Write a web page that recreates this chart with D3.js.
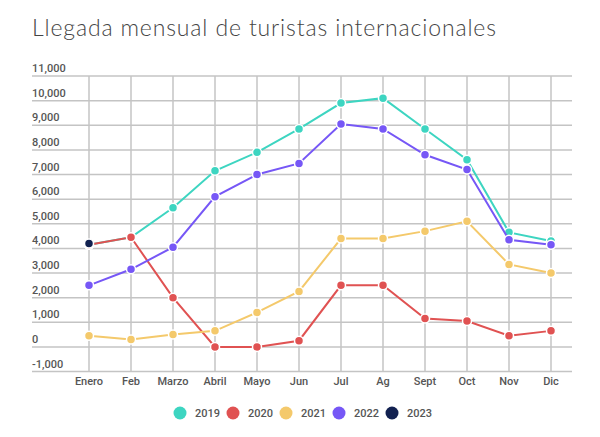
<!DOCTYPE html>
<html>
<head>
<meta charset="utf-8">
<script src="https://cdn.jsdelivr.net/npm/d3@7"></script>
<style>
  body { margin: 0; background: #fff; }
  svg { display: block; }
</style>
</head>
<body>
<div id="chart"></div>
<script>
var months = ["Enero", "Feb", "Marzo", "Abril", "Mayo", "Jun", "Jul", "Ag", "Sept", "Oct", "Nov", "Dic"];
var years = ["2019", "2020", "2021", "2022", "2023"];
var colors = ["#3dd5c1", "#e05252", "#f4c96b", "#7657f6", "#122150"];

var v2019 = [4150, 4450, 5650, 7150, 7900, 8850, 9900, 10100, 8850, 7600, 4650, 4300];
var v2020 = [4150, 4450, 2000, 0, 0, 250, 2500, 2500, 1150, 1050, 450, 650];
var v2021 = [450, 300, 500, 650, 1400, 2250, 4400, 4400, 4700, 5100, 3350, 3000];
var v2022 = [2500, 3150, 4050, 6100, 7000, 7450, 9050, 8850, 7800, 7200, 4350, 4150];
var v2023 = [4200, null, null, null, null, null, null, null, null, null, null, null];

var yTicks = [-1000, 0, 1000, 2000, 3000, 4000, 5000, 6000, 7000, 8000, 9000, 10000, 11000];

var series = [v2019, v2020, v2021, v2022, v2023];

var w = 600;
var h = 437;

var svg = d3.select("#chart")
  .append("svg")
  .attr("width", w)
  .attr("height", h);

var xScale = d3.scalePoint()
  .domain(months)
  .range([68, 572])
  .padding(0.5);

var yScale = d3.scaleLinear()
  .domain([-1000, 11000])
  .range([371.5, 76]);

// title
svg.append("text")
  .text("Llegada mensual de turistas internacionales")
  .attr("x", 32)
  .attr("y", 36)
  .attr("font-family", "Lato")
  .attr("font-weight", 300)
  .attr("font-size", "23px")
  .attr("textLength", 464)
  .attr("lengthAdjust", "spacing")
  .attr("fill", "#444");

// horizontal grid
svg.append("g")
  .selectAll("line")
  .data(yTicks)
  .enter()
  .append("line")
  .attr("x1", 32)
  .attr("x2", 572)
  .attr("y1", function(d) { return yScale(d); })
  .attr("y2", function(d) { return yScale(d); })
  .attr("stroke", "#c4c4c4")
  .attr("stroke-width", 1.5);

// vertical grid
svg.append("g")
  .selectAll("line")
  .data(months)
  .enter()
  .append("line")
  .attr("x1", function(d) { return xScale(d); })
  .attr("x2", function(d) { return xScale(d); })
  .attr("y1", yScale(11000))
  .attr("y2", yScale(-1000))
  .attr("stroke", "#c4c4c4")
  .attr("stroke-width", 1.5);

// y labels
svg.append("g")
  .selectAll("text")
  .data(yTicks)
  .enter()
  .append("text")
  .text(function(d) { return d3.format(",")(d).replace("−", "-"); })
  .attr("x", 32)
  .attr("y", function(d) { return yScale(d) - 4; })
  .attr("font-family", "Roboto")
  .attr("font-weight", 500)
  .attr("font-size", "11px")
  .attr("fill", "#555");

// x labels
svg.append("g")
  .selectAll("text")
  .data(months)
  .enter()
  .append("text")
  .text(function(d) { return d; })
  .attr("x", function(d) { return xScale(d); })
  .attr("y", 385)
  .attr("text-anchor", "middle")
  .attr("font-family", "Roboto")
  .attr("font-weight", 500)
  .attr("font-size", "11px")
  .attr("fill", "#555");

var line = d3.line()
  .defined(function(d) { return d != null; })
  .x(function(d, i) { return xScale(months[i]); })
  .y(function(d) { return yScale(d); });

series.forEach(function(vals, k) {
  var g = svg.append("g");
  g.append("path")
    .datum(vals)
    .attr("fill", "none")
    .attr("stroke", colors[k])
    .attr("stroke-width", 2)
    .attr("d", line);

  g.selectAll("circle")
    .data(vals.map(function(v, i) { return { v: v, m: months[i] }; })
      .filter(function(d) { return d.v != null; }))
    .enter()
    .append("circle")
    .attr("cx", function(d) { return xScale(d.m); })
    .attr("cy", function(d) { return yScale(d.v); })
    .attr("r", 4.5)
    .attr("fill", colors[k])
    .attr("stroke", "#fff")
    .attr("stroke-width", 1.5);
});

// legend
var legend = svg.append("g")
  .selectAll("g")
  .data(years)
  .enter()
  .append("g")
  .attr("transform", function(d, i) { return "translate(" + (180 + i * 53) + ",413)"; });

legend.append("circle")
  .attr("r", 6.5)
  .attr("fill", function(d, i) { return colors[i]; });

legend.append("text")
  .text(function(d) { return d; })
  .attr("x", 15)
  .attr("y", 4)
  .attr("font-family", "Roboto")
  .attr("font-weight", 500)
  .attr("font-size", "11px")
  .attr("fill", "#555");
</script>
</body>
</html>
